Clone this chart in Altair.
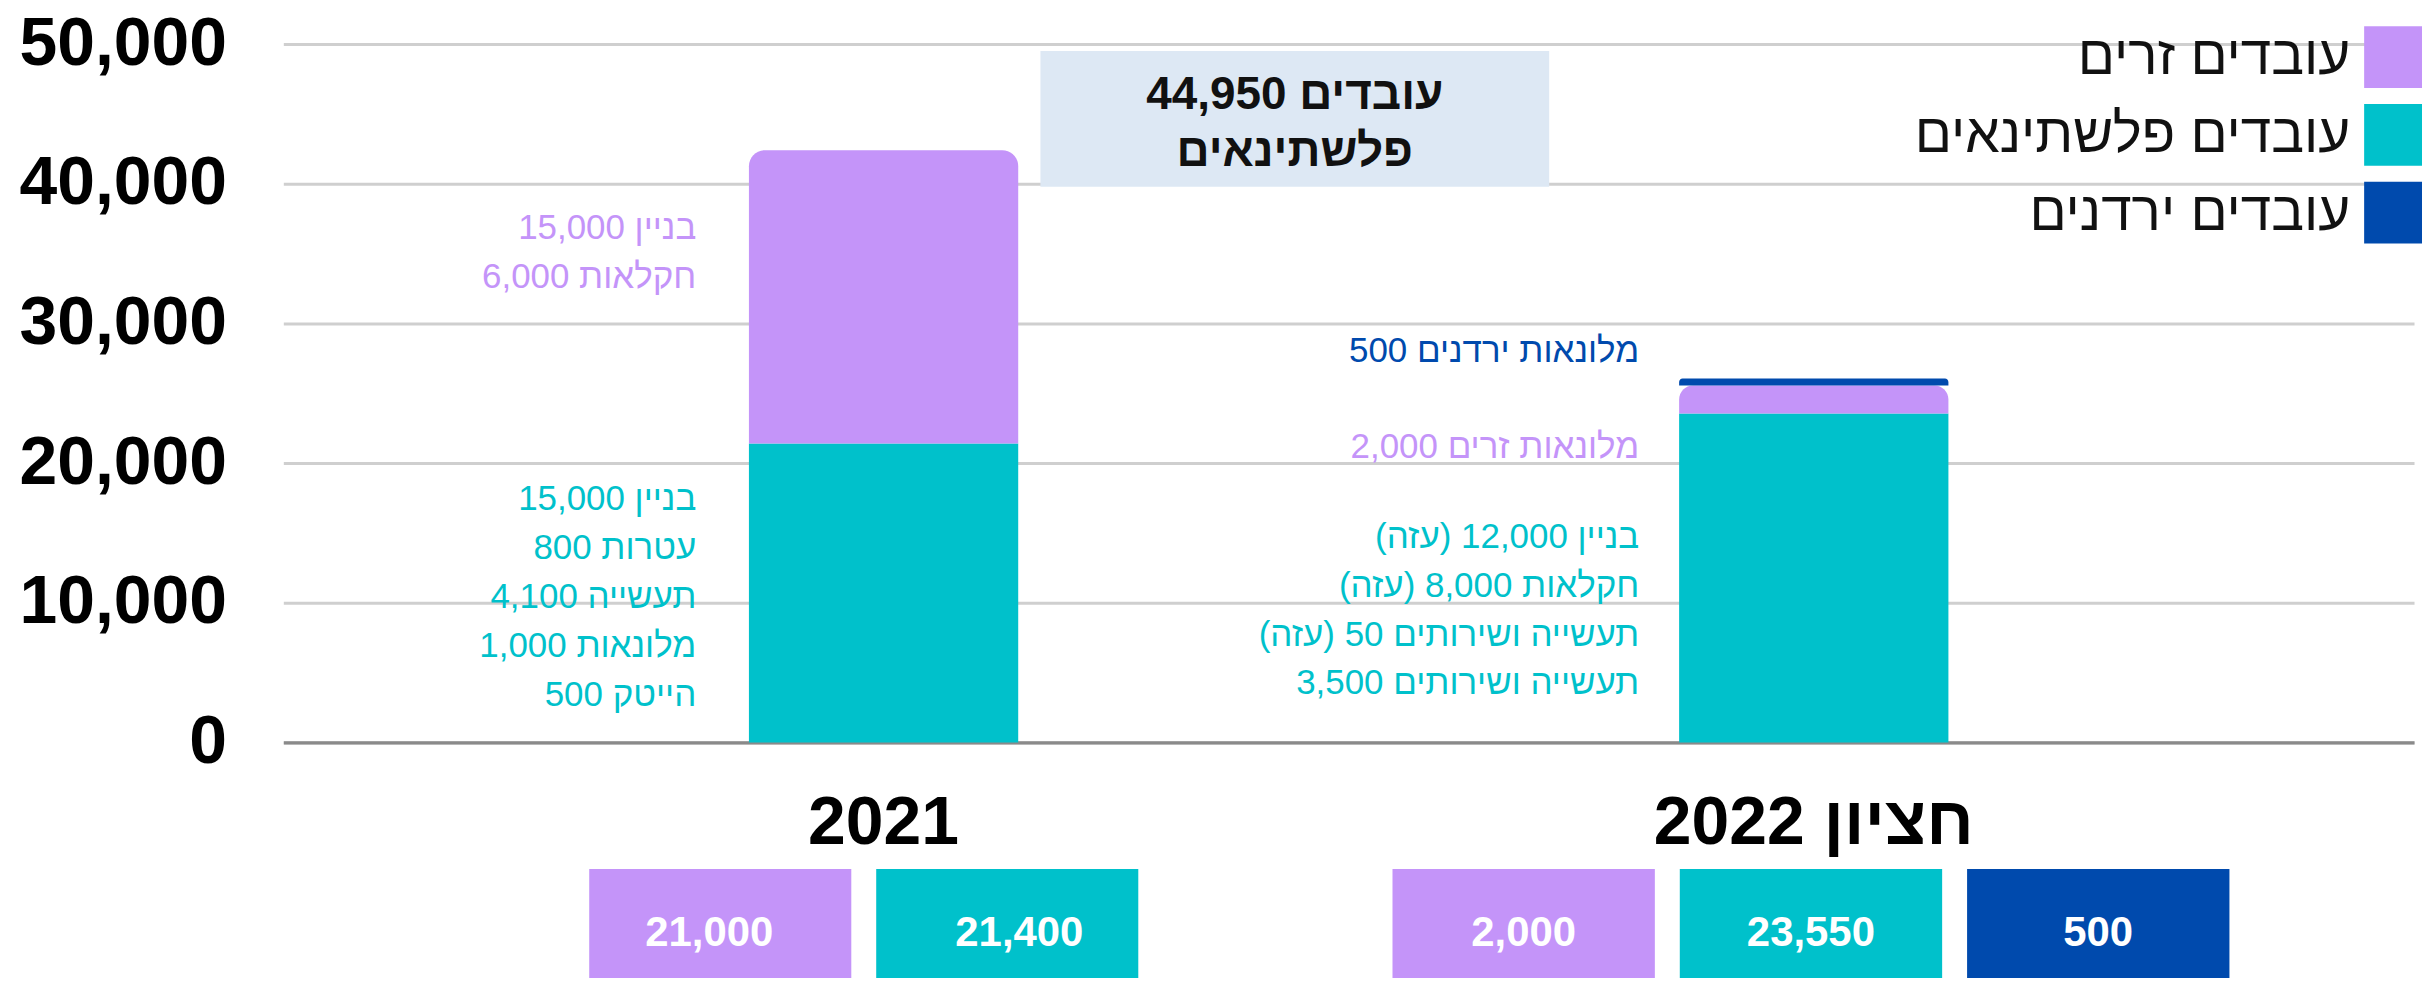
import altair as alt
import pandas as pd

FONT = "Liberation Sans, Arial, DejaVu Sans, sans-serif"
RLE, PDF = "\u202b", "\u202c"

# ---------------- data ----------------
years = ["2021", "חציון 2022"]
series = ["עובדים זרים", "עובדים פלשתינאים", "עובדים ירדנים"]
colors = ["#C494F9", "#00C1CB", "#004AAD"]
stack_order = ["עובדים פלשתינאים", "עובדים זרים", "עובדים ירדנים"]

bar_year = ["2021", "2021", "חציון 2022", "חציון 2022", "חציון 2022"]
bar_series = ["עובדים פלשתינאים", "עובדים זרים", "עובדים פלשתינאים", "עובדים זרים", "עובדים ירדנים"]
bar_value = [21400, 21000, 23550, 2000, 500]

y_ticks = [0, 10000, 20000, 30000, 40000, 50000]

note_year = ["2021", "2021", "חציון 2022", "חציון 2022", "חציון 2022"]
note_series = ["עובדים זרים", "עובדים פלשתינאים", "עובדים ירדנים", "עובדים זרים", "עובדים פלשתינאים"]
note_lines = [
    ["בניין 15,000", "חקלאות 6,000"],
    ["בניין 15,000", "עטרות 800", "תעשייה 4,100", "מלונאות 1,000", "הייטק 500"],
    ["מלונאות ירדנים 500"],
    ["מלונאות זרים 2,000"],
    ["בניין 12,000 (עזה)", "חקלאות 8,000 (עזה)", "תעשייה ושירותים 50 (עזה)", "תעשייה ושירותים 3,500"],
]

callout_lines = ["44,950 עובדים", "פלשתינאים"]

# ---------------- tables ----------------
df = pd.DataFrame({"year": bar_year, "series": bar_series, "value": bar_value})
df["order"] = [stack_order.index(s) for s in df["series"]]
df["label"] = [f"{v:,}" for v in df["value"]]

notes = pd.DataFrame({
    "year": note_year,
    "series": note_series,
    "text": ["\n".join(RLE + l + PDF for l in lines) for lines in note_lines],
})
callout = pd.DataFrame({"text": ["\n".join(callout_lines)]})

# ---------------- encodings ----------------
x_enc = alt.X("year:N", sort=years, title=None,
              scale=alt.Scale(domain=years, paddingInner=0, paddingOuter=0.1453))
y_scale = alt.Scale(domain=[0, 50000], nice=False, zero=True)
color_scale = alt.Scale(domain=series, range=colors)
legend = alt.Legend(
    title=None, orient="none", legendX=2086, legendY=-18, padding=0,
    symbolType="square", symbolSize=3844, symbolStrokeWidth=0, symbolOpacity=1,
    labelAlign="right", labelOffset={"expr": "-76"}, labelFontSize=55, labelFont=FONT,
    labelColor="#111111", labelLimit=2000, rowPadding=16,
)

stacked = alt.Chart(df).transform_stack(
    stack="value", groupby=["year"], as_=["y0", "y1"],
    sort=[alt.SortField("order", order="ascending")],
)
BAR_W = alt.RelativeBandSize(0.2895)
y_axis = alt.Axis(values=y_ticks, format=",.0f", title=None, labelLimit=2000)

bars_bottom = stacked.transform_filter(
    alt.FieldEqualPredicate(field="series", equal="עובדים פלשתינאים")
).mark_bar(width=BAR_W).encode(
    x=x_enc,
    y=alt.Y("y0:Q", scale=y_scale, axis=y_axis),
    y2="y1:Q",
    color=alt.Color("series:N", scale=color_scale, legend=legend),
)
bars_top = stacked.transform_filter(
    alt.FieldOneOfPredicate(field="series", oneOf=["עובדים זרים", "עובדים ירדנים"])
).mark_bar(width=BAR_W, cornerRadiusTopLeft=16, cornerRadiusTopRight=16).encode(
    x=x_enc,
    y=alt.Y("y0:Q", scale=y_scale, axis=y_axis),
    y2="y1:Q",
    color=alt.Color("series:N", scale=color_scale),
)

# annotation texts beside the bars (layout constants, not data)
note_pos = {  # (dx from band centre, y of first line in plot px)
    0: (-187.75, 184),
    1: (-187.75, 456.5),
    2: (-175, 307.5),
    3: (-175, 404),
    4: (-175, 494),
}
note_layers = []
for i in range(len(note_lines)):
    dx, yy = note_pos[i]
    note_layers.append(
        alt.Chart(notes.iloc[[i]]).mark_text(
            align="right", baseline="middle", dx=dx, fontSize=35, font=FONT,
            lineBreak="\n", lineHeight=49,
        ).encode(
            x=x_enc,
            y=alt.value(yy),
            text="text:N",
            color=alt.Color("series:N", scale=color_scale),
        )
    )

# call-out box
callout_rect = alt.Chart(callout).mark_rect(color="#DDE8F4").encode(
    x=alt.value(759), x2=alt.value(1269), y=alt.value(7), y2=alt.value(143)
)
callout_text = alt.Chart(callout).mark_text(
    align="center", baseline="alphabetic", fontSize=46, fontWeight="bold",
    font=FONT, color="#111111", lineBreak="\n", lineHeight=57,
).encode(x=alt.value(1014), y=alt.value(65), text="text:N")

# totals boxes under the axis
def total_boxes(year, dom, po, align, pt_pad, pt_align):
    off_band = alt.XOffset("series:N", scale=alt.Scale(
        type="band", domain=dom, paddingInner=0.0868, paddingOuter=po, align=align))
    off_point = alt.XOffset("series:N", scale=alt.Scale(
        type="point", domain=dom, padding=pt_pad, align=pt_align))
    src = alt.Chart(df).transform_filter(alt.FieldEqualPredicate(field="year", equal=year))
    rect = src.mark_bar().encode(
        x=x_enc, xOffset=off_band, y=alt.value(827), y2=alt.value(960),
        color=alt.Color("series:N", scale=color_scale),
    )
    txt = src.mark_text(
        fontSize=42, fontWeight="bold", font=FONT, color="white", baseline="middle"
    ).encode(x=x_enc, xOffset=off_point, y=alt.value(891), text="label:N")
    return [rect, txt]

boxes = total_boxes("2021", ["עובדים זרים", "עובדים פלשתינאים"], 0.664, 0.448, 1.119, 0.469) + \
        total_boxes("חציון 2022", series, 0.1623, 0.47, 0.619, 0.492)

chart = alt.layer(
    bars_bottom, bars_top, callout_rect, callout_text, *note_layers, *boxes
).resolve_scale(
    xOffset="independent"
).properties(
    width=2136, height=700,
    padding={"left": 276, "top": 35, "right": 8, "bottom": 235},
    autosize=alt.AutoSizeParams(type="none"),
).configure_view(
    stroke=None
).configure_axisX(
    grid=False, ticks=False, domain=True, domainColor="#8a8a8a", domainWidth=3.5,
    labelFontSize=68, labelFontWeight="bold", labelFont=FONT, labelColor="#000000",
    labelPadding=47, labelAngle=0, labelLimit=2000, title=None,
).configure_axisY(
    grid=True, gridColor="#cfcfcf", gridWidth=3, ticks=False, domain=False,
    labelFontSize=68, labelFontWeight="bold", labelFont=FONT, labelColor="#000000",
    labelPadding=57, format=",.0f", labelLimit=2000,
)

chart.save("out.html", embed_options={"renderer": "svg", "actions": False})
